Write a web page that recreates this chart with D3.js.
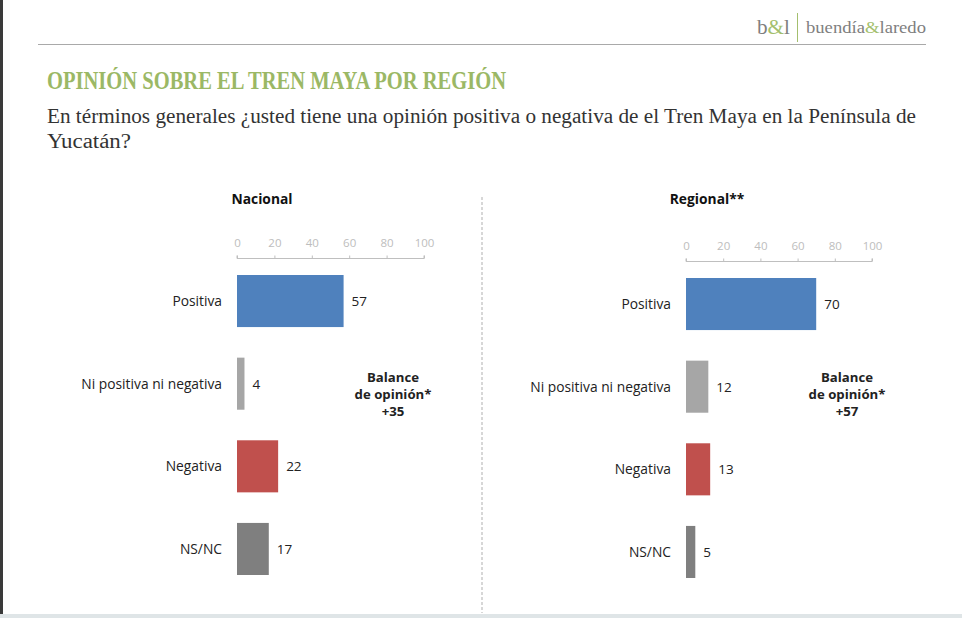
<!DOCTYPE html>
<html>
<head>
<meta charset="utf-8">
<script src="https://cdn.jsdelivr.net/npm/d3@7"></script>
<style>
  body { margin: 0; background: #fff; }
  svg { display: block; }
</style>
</head>
<body>
<script>
const categories = ["Positiva", "Ni positiva ni negativa", "Negativa", "NS/NC"];
const nacional = [57, 4, 22, 17];
const regional = [70, 12, 13, 5];
const tickValues = [0, 20, 40, 60, 80, 100];
const panelTitles = ["Nacional", "Regional**"];
const balances = ["+35", "+57"];
const barColors = ["#4f81bd", "#a6a6a6", "#c0504d", "#7f7f7f"];

const width = 962, height = 618;

const svg = d3.select("body").append("svg")
  .attr("width", width)
  .attr("height", height);

// page frame: dark left edge and pale strip at the bottom
svg.append("rect").attr("x", 0).attr("y", 0).attr("width", 3).attr("height", 614).attr("fill", "#3a3a3a");
svg.append("rect").attr("x", 0).attr("y", 614).attr("width", width).attr("height", 4).attr("fill", "#dfe5e7");

// header line + logo
svg.append("line")
  .attr("x1", 38).attr("x2", 926).attr("y1", 44.5).attr("y2", 44.5)
  .attr("stroke", "#a9a9a9").attr("stroke-width", 1);
svg.append("text")
  .attr("x", 757).attr("y", 34)
  .attr("font-family", "Liberation Serif").attr("font-size", 20)
  .attr("fill", "#7f7f7f")
  .attr("textLength", 33).attr("lengthAdjust", "spacingAndGlyphs")
  .html('b<tspan fill="#a4bf6e">&amp;</tspan>l');
svg.append("line")
  .attr("x1", 797.5).attr("x2", 797.5).attr("y1", 13).attr("y2", 42)
  .attr("stroke", "#a4bf6e").attr("stroke-width", 1);
svg.append("text")
  .attr("x", 806).attr("y", 33)
  .attr("font-family", "Liberation Serif").attr("font-size", 16)
  .attr("fill", "#7f7f7f")
  .attr("textLength", 120).attr("lengthAdjust", "spacingAndGlyphs")
  .html('buendía<tspan fill="#a4bf6e">&amp;</tspan>laredo');

// title and question
svg.append("text")
  .attr("x", 47).attr("y", 89)
  .attr("font-family", "Liberation Serif").attr("font-weight", "bold")
  .attr("font-size", 26).attr("fill", "#9bb865")
  .attr("textLength", 459).attr("lengthAdjust", "spacingAndGlyphs")
  .text("OPINIÓN SOBRE EL TREN MAYA POR REGIÓN");

svg.append("text")
  .attr("x", 47).attr("y", 123)
  .attr("font-family", "Liberation Serif").attr("font-size", 20)
  .attr("fill", "#333")
  .attr("textLength", 869).attr("lengthAdjust", "spacingAndGlyphs")
  .text("En términos generales ¿usted tiene una opinión positiva o negativa de el Tren Maya en la Península de");
svg.append("text")
  .attr("x", 47).attr("y", 148)
  .attr("font-family", "Liberation Serif").attr("font-size", 20)
  .attr("fill", "#333")
  .attr("textLength", 84).attr("lengthAdjust", "spacingAndGlyphs")
  .text("Yucatán?");

// dashed divider between the two panels
svg.append("line")
  .attr("x1", 482).attr("x2", 482).attr("y1", 197).attr("y2", 613)
  .attr("stroke", "#bdbdbd").attr("stroke-width", 1.2)
  .attr("stroke-dasharray", "3,2");

const panels = [
  {title: panelTitles[0], values: nacional, balance: balances[0], x0: 237, x1: 424, axisY: 258.5, yTop: 275, titleX: 262, labelX: 222, balX: 393},
  {title: panelTitles[1], values: regional, balance: balances[1], x0: 686, x1: 872, axisY: 261.5, yTop: 278, titleX: 707, labelX: 671, balX: 847}
];

const fontUI = "'Open Sans', 'Noto Sans', sans-serif";

panels.forEach((p) => {
  const x = d3.scaleLinear().domain([0, 100]).range([p.x0, p.x1]);
  const y = d3.scaleBand().domain(categories).range([p.yTop, p.yTop + 300]).paddingInner(0.37).paddingOuter(0);

  const g = svg.append("g");

  g.append("text")
    .attr("x", p.titleX).attr("y", 204)
    .attr("text-anchor", "middle")
    .attr("font-family", fontUI).attr("font-weight", "bold")
    .attr("font-size", 13.8).attr("fill", "#111")
    .text(p.title);

  const axis = g.append("g")
    .attr("transform", `translate(0,${p.axisY})`)
    .call(d3.axisTop(x).tickValues(tickValues).tickSize(3).tickPadding(9));
  axis.select(".domain").attr("stroke", "#bfbfbf").attr("d", `M${p.x0},-3V0H${p.x1}V-3`);
  axis.selectAll(".tick line").attr("stroke", "#bfbfbf");
  axis.selectAll(".tick text")
    .attr("font-family", fontUI).attr("font-size", 11.5)
    .attr("fill", "#bdbdbd");

  g.selectAll("rect.bar")
    .data(p.values)
    .enter()
    .append("rect")
    .attr("class", "bar")
    .attr("x", x(0))
    .attr("y", (d, i) => y(categories[i]))
    .attr("width", (d) => x(d) - x(0))
    .attr("height", y.bandwidth())
    .attr("fill", (d, i) => barColors[i]);

  g.selectAll("text.val")
    .data(p.values)
    .enter()
    .append("text")
    .attr("class", "val")
    .attr("x", (d) => x(d) + 8)
    .attr("y", (d, i) => y(categories[i]) + y.bandwidth() / 2)
    .attr("dy", "0.36em")
    .attr("font-family", fontUI).attr("font-size", 13.5)
    .attr("fill", "#222")
    .text((d) => d);

  g.selectAll("text.cat")
    .data(categories)
    .enter()
    .append("text")
    .attr("class", "cat")
    .attr("x", p.labelX)
    .attr("y", (d) => y(d) + y.bandwidth() / 2)
    .attr("dy", "0.36em")
    .attr("text-anchor", "end")
    .attr("font-family", fontUI).attr("font-size", 13.8)
    .attr("fill", "#222")
    .text((d) => d);

  // balance note, one text per line
  g.selectAll("text.bal")
    .data(["Balance", "de opinión*", p.balance])
    .enter()
    .append("text")
    .attr("class", "bal")
    .attr("x", p.balX)
    .attr("y", (d, i) => 382 + i * 17)
    .attr("text-anchor", "middle")
    .attr("font-family", fontUI).attr("font-weight", "bold")
    .attr("font-size", 13.2).attr("fill", "#222")
    .text((d) => d);
});
</script>
</body>
</html>
